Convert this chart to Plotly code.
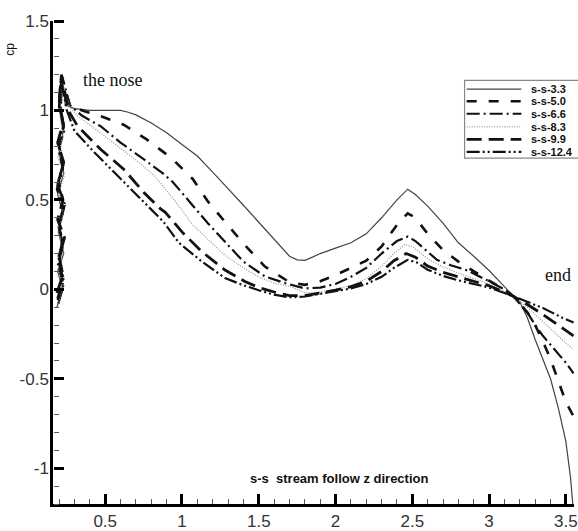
import plotly.graph_objects as go

# Pressure coefficient along the s-s stream, one series per case
x_33 = [0.185, 0.225, 0.19, 0.23, 0.195, 0.225, 0.19, 0.23, 0.2, 0.225, 0.205, 0.22, 0.24,
        0.3, 0.4, 0.5, 0.6, 0.65, 0.7, 0.8, 0.9, 1.0, 1.1, 1.2, 1.3, 1.4, 1.5, 1.6,
        1.7, 1.75, 1.8, 1.85, 1.9, 2.0, 2.1, 2.2, 2.3, 2.4, 2.47, 2.52, 2.6, 2.7,
        2.8, 2.9, 3.0, 3.1, 3.16, 3.2, 3.25, 3.3, 3.35, 3.4, 3.45, 3.5, 3.53, 3.55]
cp_33 = [-0.1, 0.0, 0.1, 0.2, 0.32, 0.42, 0.53, 0.65, 0.76, 0.88, 1.0, 1.2, 1.03,
         1.01, 1.0, 1.0, 1.0, 0.99, 0.975, 0.93, 0.875, 0.81, 0.745, 0.655, 0.565, 0.47, 0.375, 0.28,
         0.185, 0.165, 0.162, 0.18, 0.2, 0.23, 0.26, 0.31, 0.4, 0.5, 0.56, 0.53, 0.465, 0.37,
         0.26, 0.185, 0.105, 0.015, -0.04, -0.07, -0.16, -0.28, -0.385, -0.5, -0.66, -0.85, -1.05, -1.25]

x_50 = [0.19, 0.23, 0.185, 0.225, 0.195, 0.235, 0.19, 0.225, 0.2, 0.23, 0.2, 0.215, 0.27,
        0.35, 0.47, 0.62, 0.77, 0.93, 1.07, 1.17, 1.29, 1.41, 1.54, 1.7, 1.8, 1.9,
        2.0, 2.1, 2.2, 2.3, 2.4, 2.47, 2.52, 2.6, 2.7, 2.8, 2.9, 3.0, 3.1, 3.16,
        3.25, 3.3, 3.35, 3.4, 3.45, 3.5, 3.55]
cp_50 = [-0.05, 0.06, 0.15, 0.26, 0.36, 0.47, 0.58, 0.69, 0.8, 0.91, 1.02, 1.17, 1.03,
         1.0, 0.968, 0.92, 0.838, 0.735, 0.617, 0.49, 0.367, 0.247, 0.127, 0.04, 0.025, 0.045,
         0.08, 0.12, 0.16, 0.24, 0.36, 0.425, 0.4, 0.31, 0.22, 0.155, 0.1, 0.048, 0.0, -0.04,
         -0.13, -0.2, -0.29, -0.39, -0.51, -0.63, -0.71]

x_66 = [0.195, 0.23, 0.19, 0.225, 0.2, 0.23, 0.185, 0.225, 0.195, 0.235, 0.21, 0.22, 0.27,
        0.35, 0.47, 0.6, 0.75, 0.88, 0.94, 1.04, 1.17, 1.29, 1.4, 1.54, 1.67, 1.8,
        1.9, 2.0, 2.1, 2.2, 2.3, 2.4, 2.47, 2.52, 2.6, 2.66, 2.75, 2.86, 3.0, 3.1,
        3.16, 3.25, 3.3, 3.35, 3.4, 3.45, 3.5, 3.55]
cp_66 = [-0.08, 0.03, 0.13, 0.24, 0.34, 0.45, 0.56, 0.67, 0.78, 0.89, 1.0, 1.19, 1.03,
         0.97, 0.912, 0.82, 0.728, 0.645, 0.6, 0.497, 0.368, 0.257, 0.155, 0.072, 0.035, 0.005,
         0.01, 0.03, 0.07, 0.12, 0.2, 0.27, 0.295, 0.27, 0.21, 0.165, 0.135, 0.105, 0.045, 0.0,
         -0.04, -0.13, -0.2, -0.26, -0.31, -0.36, -0.41, -0.47]

x_83 = [0.19, 0.22, 0.195, 0.23, 0.19, 0.225, 0.2, 0.235, 0.19, 0.225, 0.205, 0.22, 0.27,
        0.32, 0.43, 0.54, 0.69, 0.82, 0.95, 1.07, 1.18, 1.28, 1.4, 1.5, 1.6, 1.71,
        1.8, 1.9, 2.0, 2.1, 2.2, 2.3, 2.38, 2.45, 2.5, 2.6, 2.7, 2.8, 2.9, 3.0,
        3.1, 3.16, 3.25, 3.3, 3.39, 3.45, 3.5, 3.55]
cp_83 = [-0.1, 0.01, 0.11, 0.22, 0.33, 0.43, 0.54, 0.64, 0.74, 0.86, 0.98, 1.16, 1.02,
         0.97, 0.9, 0.83, 0.73, 0.635, 0.5, 0.36, 0.27, 0.19, 0.12, 0.07, 0.035, 0.015,
         -0.02, -0.015, 0.0, 0.02, 0.06, 0.13, 0.2, 0.25, 0.24, 0.17, 0.125, 0.09, 0.06, 0.03,
         -0.01, -0.04, -0.1, -0.14, -0.215, -0.26, -0.3, -0.335]

x_99 = [0.185, 0.225, 0.2, 0.235, 0.19, 0.225, 0.195, 0.23, 0.19, 0.225, 0.2, 0.215, 0.26,
        0.32, 0.47, 0.62, 0.75, 0.86, 0.89, 1.0, 1.13, 1.28, 1.41, 1.5, 1.6, 1.7,
        1.8, 1.9, 2.0, 2.1, 2.2, 2.3, 2.38, 2.46, 2.52, 2.6, 2.7, 2.8, 2.9, 3.0,
        3.1, 3.16, 3.25, 3.35, 3.45, 3.55]
cp_99 = [-0.02, 0.08, 0.18, 0.29, 0.39, 0.5, 0.6, 0.71, 0.82, 0.93, 1.04, 1.2, 1.0,
         0.912, 0.783, 0.672, 0.543, 0.45, 0.432, 0.321, 0.21, 0.108, 0.044, 0.01, -0.015, -0.035,
         -0.035, -0.02, -0.005, 0.015, 0.045, 0.1, 0.16, 0.2, 0.18, 0.13, 0.095, 0.07, 0.045, 0.02,
         -0.015, -0.04, -0.085, -0.14, -0.2, -0.26]

x_124 = [0.19, 0.23, 0.195, 0.22, 0.2, 0.235, 0.19, 0.225, 0.195, 0.23, 0.2, 0.21, 0.25,
         0.3, 0.43, 0.58, 0.73, 0.88, 0.98, 1.13, 1.28, 1.39, 1.5, 1.6, 1.7, 1.8,
         1.9, 2.0, 2.1, 2.2, 2.3, 2.38, 2.47, 2.53, 2.6, 2.7, 2.8, 2.9, 3.0, 3.1,
         3.16, 3.25, 3.35, 3.48, 3.55]
cp_124 = [-0.06, 0.05, 0.16, 0.27, 0.37, 0.48, 0.59, 0.7, 0.81, 0.92, 1.06, 1.18, 1.0,
          0.885, 0.765, 0.635, 0.506, 0.377, 0.26, 0.155, 0.063, 0.026, -0.005, -0.03, -0.045, -0.04,
          -0.025, -0.01, 0.005, 0.03, 0.07, 0.12, 0.165, 0.15, 0.11, 0.075, 0.05, 0.03, 0.01, -0.02,
          -0.04, -0.07, -0.104, -0.16, -0.185]

series_names = ["s-s-3.3", "s-s-5.0", "s-s-6.6", "s-s-8.3", "s-s-9.9", "s-s-12.4"]
series_x = [x_33, x_50, x_66, x_83, x_99, x_124]
series_cp = [cp_33, cp_50, cp_66, cp_83, cp_99, cp_124]

line_styles = [
    dict(color="#444444", width=1.2, dash="solid"),
    dict(color="#111111", width=2.6, dash="10px,12px"),
    dict(color="#111111", width=2.2, dash="13px,4px,2px,4px"),
    dict(color="#9a9a9a", width=1.3, dash="1px,1.5px"),
    dict(color="#111111", width=2.8, dash="15px,7px"),
    dict(color="#111111", width=2.2, dash="13px,3px,2px,3px,2px,3px"),
]

x_range = [0.16, 3.553]
y_range = [-1.2, 1.5]
x_ticks = [0.5, 1, 1.5, 2, 2.5, 3, 3.5]
x_labels = ["0.5", "1", "1.5", "2", "2.5", "3", "3.5"]
y_ticks = [-1, -0.5, 0, 0.5, 1, 1.5]
y_labels = ["-1", "-0.5", "0", "0.5", "1", "1.5"]

fig = go.Figure()
for name, xs, ys, st in zip(series_names, series_x, series_cp, line_styles):
    fig.add_trace(go.Scatter(x=xs, y=ys, mode="lines", name=name, line=st,
                             showlegend=False))
# empty trace that carries the tick-mark axes
fig.add_trace(go.Scatter(x=[], y=[], xaxis="x2", yaxis="y2", showlegend=False,
                         hoverinfo="skip"))

# Boxed key in the upper right
row_y = [0.859, 0.834, 0.808, 0.781, 0.755, 0.729]
shapes = [dict(type="rect", xref="paper", yref="paper", x0=0.79, x1=1.05,
               y0=0.716, y1=0.877, line=dict(color="#888888", width=1.2),
               fillcolor="white", layer="above")]
annotations = []
for name, st, ry in zip(series_names, line_styles, row_y):
    shapes.append(dict(type="line", xref="paper", yref="paper", x0=0.794, x1=0.899,
                       y0=ry, y1=ry, line=dict(color=st["color"], width=st["width"],
                                               dash=st["dash"]), layer="above"))
    annotations.append(dict(xref="paper", yref="paper", x=0.914, y=ry,
                            text="<b>" + name + "</b>",
                            showarrow=False, xanchor="left", yanchor="middle",
                            font=dict(family="Liberation Sans, Arial", size=11,
                                      color="#111111")))

annotations += [
    dict(xref="x", yref="y", x=0.545, y=1.17, text="the nose", showarrow=False,
         font=dict(family="Liberation Serif, Times New Roman", size=18, color="#111111")),
    dict(xref="x", yref="y", x=3.45, y=0.08, text="end", showarrow=False,
         font=dict(family="Liberation Serif, Times New Roman", size=18, color="#111111")),
    dict(xref="x", yref="y", x=2.02, y=-1.055,
         text="<b>s-s&nbsp; stream follow z direction</b>", showarrow=False,
         font=dict(family="Liberation Sans, Arial", size=13, color="#111111")),
    dict(xref="paper", yref="paper", x=-0.064, y=0.942, text="cp", textangle=-90,
         xanchor="center", yanchor="middle", xshift=-10,
         showarrow=False, font=dict(family="Liberation Sans, Arial", size=12,
                                    color="#111111")),
]

label_font = dict(family="Liberation Sans, Arial", size=17, color="#333333")

fig.update_layout(
    width=578, height=531,
    margin=dict(l=53, r=0, t=21, b=23),
    paper_bgcolor="white", plot_bgcolor="white",
    xaxis=dict(range=x_range, tickmode="array", tickvals=x_ticks, ticktext=x_labels,
               showline=True, linecolor="black", linewidth=2.5, ticks="",
               showgrid=False, zeroline=False, ticklabeloverflow="allow",
               tickfont=label_font),
    yaxis=dict(range=y_range, tickmode="array", tickvals=y_ticks, ticktext=y_labels,
               showline=True, linecolor="black", linewidth=2.5, ticks="",
               showgrid=False, zeroline=False, ticklabelstandoff=-2,
               tickfont=label_font),
    # tick marks pointing into the plot: axes on the opposite side, pinned to the frame
    xaxis2=dict(overlaying="x", side="top", anchor="free", position=0,
                range=x_range, tickmode="array", tickvals=x_ticks,
                showticklabels=False, showline=False, showgrid=False, zeroline=False,
                ticks="outside", ticklen=10, tickwidth=2.5, tickcolor="black",
                minor=dict(dtick=0.1, tick0=0, ticks="outside", ticklen=5,
                           tickwidth=1, tickcolor="#555555")),
    yaxis2=dict(overlaying="y", side="right", anchor="free", position=0,
                range=y_range, tickmode="array", tickvals=y_ticks,
                showticklabels=False, showline=False, showgrid=False, zeroline=False,
                ticks="outside", ticklen=10, tickwidth=2.5, tickcolor="black",
                minor=dict(dtick=0.1, tick0=0, ticks="outside", ticklen=5,
                           tickwidth=1, tickcolor="#555555")),
    shapes=shapes,
    annotations=annotations,
    showlegend=False,
)

fig.write_html("out.html")
